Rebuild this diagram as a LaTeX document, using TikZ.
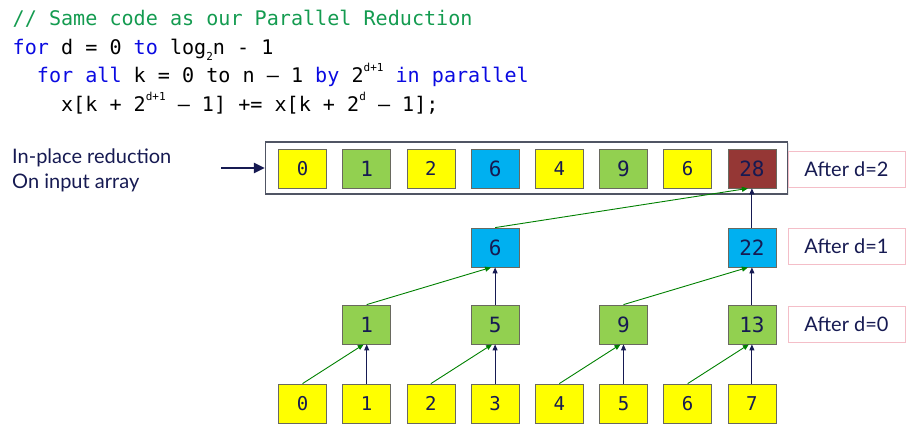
\documentclass[tikz,border=0pt]{standalone}
\usepackage{fontspec}
\setmainfont{Lato}
\setmonofont{DejaVu Sans Mono}
\usetikzlibrary{arrows.meta,shadows}
\definecolor{boxyellow}{RGB}{255,255,0}
\definecolor{boxgreen}{RGB}{146,208,80}
\definecolor{boxblue}{RGB}{0,176,240}
\definecolor{boxbrown}{RGB}{149,55,53}
\definecolor{navy}{RGB}{22,26,82}
\definecolor{arrgreen}{RGB}{0,128,0}
\definecolor{cmtgreen}{RGB}{20,155,80}
\definecolor{kwblue}{RGB}{10,10,225}
\definecolor{pinkline}{RGB}{244,190,200}
\definecolor{frameline}{RGB}{80,85,100}
\definecolor{cellline}{RGB}{105,105,95}
\newcommand\codesup[1]{\raisebox{0.55em}{\fontsize{11}{11}\selectfont #1}}
\newcommand\codesub[1]{\raisebox{-0.3em}{\fontsize{11}{11}\selectfont #1}}
\begin{document}
\begin{tikzpicture}[x=1pt,y=-1pt,
  cell/.style={draw=cellline, line width=0.8pt, minimum width=48pt, minimum height=39pt,
    inner sep=0pt, text=navy, font=\ttfamily\fontsize{21}{21}\selectfont},
  ycell/.style={cell, fill=boxyellow, font=\ttfamily\fontsize{19}{19}\selectfont},
  gcell/.style={cell, fill=boxgreen},
  bcell/.style={cell, fill=boxblue},
  rcell/.style={cell, fill=boxbrown},
  code/.style={anchor=base west, inner sep=0pt, font=\ttfamily\fontsize{20.1}{24}\selectfont},
  lbl/.style={draw=pinkline, line width=0.8pt, minimum width=117pt, minimum height=36pt,
    inner sep=0pt, text=navy, font=\fontsize{20}{24}\selectfont},
  navyup/.style={-{Triangle[length=6pt,width=5pt]}, draw=navy, line width=0.9pt},
  greenup/.style={-{Triangle[length=6pt,width=5pt]}, draw=arrgreen, line width=0.9pt},
]
\useasboundingbox (0,0) rectangle (918,437);

% code
\node[code] (c1) at (12.5,25) {\textcolor{cmtgreen}{// Same code as our Parallel Reduction}};
\node[code] (c2) at (12.5,54) {\textcolor{kwblue}{for} d = 0 \textcolor{kwblue}{to} log\codesub{2}n - 1};
\node[code] (c3) at (36.7,82.5) {\textcolor{kwblue}{for all} k = 0 to n – 1 \textcolor{kwblue}{by} 2\codesup{d+1} \textcolor{kwblue}{in parallel}};
\node[code] (c4) at (60.9,111.5) {x[k + 2\codesup{d+1} – 1] += x[k + 2\codesup{d} – 1];};

% left note
\node[anchor=west, align=left, inner sep=0pt, text=navy, font=\fontsize{20}{25}\selectfont] (note) at (12,170.2)
  {In-place reduction\\On input array};

% frame around the array
\node[draw=frameline, line width=1.2pt, fill=white, minimum width=522pt, minimum height=52pt,
  drop shadow={opacity=0.2, shadow xshift=1.2pt, shadow yshift=-1.2pt}] (frame) at (526.5,168) {};
\coordinate (src) at (221,168);
\draw[-{Triangle[length=11pt,width=10pt]}, draw=navy, line width=2.4pt] (src) -- (frame.west);

% top row (after d=2)
\node[ycell] (t0) at (302.5,168.5) {0};
\node[gcell] (t1) at (366.7,168.5) {1};
\node[ycell] (t2) at (430.9,168.5) {2};
\node[bcell] (t3) at (495.1,168.5) {6};
\node[ycell] (t4) at (559.3,168.5) {4};
\node[gcell] (t5) at (623.5,168.5) {9};
\node[ycell] (t6) at (687.7,168.5) {6};
\node[rcell] (t7) at (751.9,168.5) {28};

% after d=1
\node[bcell] (n3) at (495.1,247.5) {6};
\node[bcell] (n7) at (751.9,247.5) {22};

% after d=0
\node[gcell] (m1) at (366.7,324.5) {1};
\node[gcell] (m3) at (495.1,324.5) {5};
\node[gcell] (m5) at (623.5,324.5) {9};
\node[gcell] (m7) at (751.9,324.5) {13};

% input
\node[ycell] (b0) at (302.5,403.5) {0};
\node[ycell] (b1) at (366.7,403.5) {1};
\node[ycell] (b2) at (430.9,403.5) {2};
\node[ycell] (b3) at (495.1,403.5) {3};
\node[ycell] (b4) at (559.3,403.5) {4};
\node[ycell] (b5) at (623.5,403.5) {5};
\node[ycell] (b6) at (687.7,403.5) {6};
\node[ycell] (b7) at (751.9,403.5) {7};

% labels
\node[lbl] (l2) at (846.5,169) {After d=2};
\node[lbl] (l1) at (846.5,246.5) {After d=1};
\node[lbl] (l0) at (846.5,324) {After d=0};

% d=0 arrows
\draw[greenup] (b0.north) -- ([xshift=-3pt]m1.south);
\draw[navyup] (b1.north) -- (m1.south);
\draw[greenup] (b2.north) -- ([xshift=-3pt]m3.south);
\draw[navyup] (b3.north) -- (m3.south);
\draw[greenup] (b4.north) -- ([xshift=-3pt]m5.south);
\draw[navyup] (b5.north) -- (m5.south);
\draw[greenup] (b6.north) -- ([xshift=-3pt]m7.south);
\draw[navyup] (b7.north) -- (m7.south);

% d=1 arrows
\draw[greenup] (m1.north) -- ([xshift=-4pt]n3.south);
\draw[navyup] (m3.north) -- (n3.south);
\draw[greenup] (m5.north) -- ([xshift=-4pt]n7.south);
\draw[navyup] (m7.north) -- (n7.south);

% d=2 arrows
\draw[greenup] (n3.north) -- ([xshift=-4pt]t7.south);
\draw[navyup] (n7.north) -- (t7.south);
\end{tikzpicture}
\end{document}
